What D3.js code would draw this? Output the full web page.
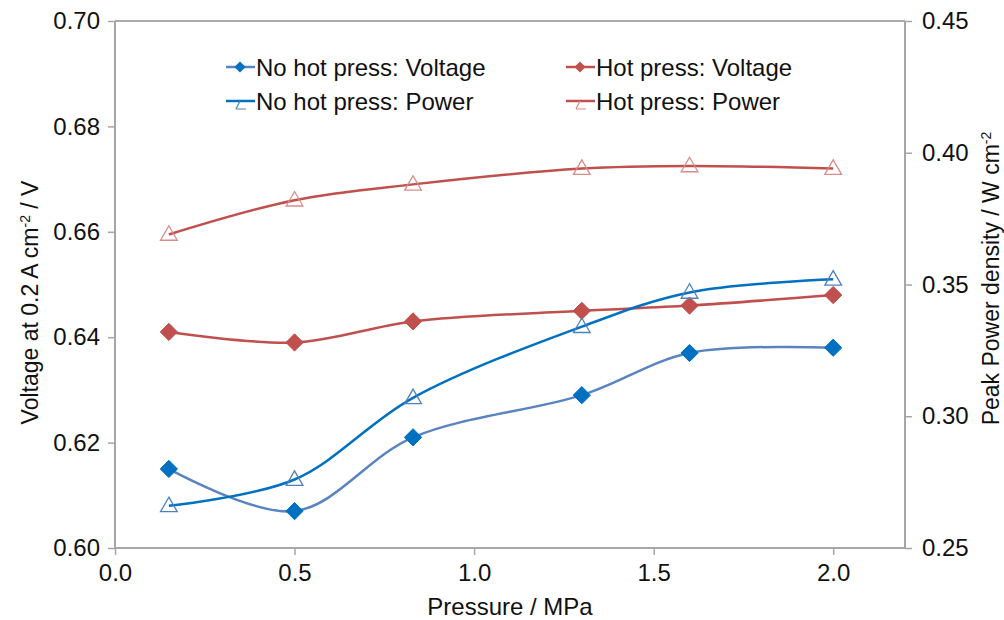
<!DOCTYPE html>
<html>
<head>
<meta charset="utf-8">
<script src="https://cdn.jsdelivr.net/npm/d3@7"></script>
<style>
  body { margin: 0; background: #fff; }
  text { font-family: "Liberation Sans", Arial, sans-serif; fill: #111; }
</style>
</head>
<body>
<div id="chart"></div>
<script>
// Pressure values (MPa)
const pressure = [0.15, 0.5, 0.83, 1.3, 1.6, 2.0];

// Voltage at 0.2 A cm-2 (left axis)
const noHotVoltage = [0.615, 0.607, 0.621, 0.629, 0.637, 0.638];
const hotVoltage = [0.641, 0.639, 0.643, 0.645, 0.646, 0.648];

// Peak power density (right axis)
const noHotPower = [0.266, 0.276, 0.307, 0.334, 0.347, 0.352];
const hotPower = [0.369, 0.382, 0.388, 0.394, 0.395, 0.394];

const xTicks = [0, 0.5, 1.0, 1.5, 2.0];
const yLeftTicks = [0.60, 0.62, 0.64, 0.66, 0.68, 0.70];
const yRightTicks = [0.25, 0.30, 0.35, 0.40, 0.45];

const width = 1004, height = 620;
const margin = { top: 21, right: 99, bottom: 72, left: 115 };
const w = width - margin.left - margin.right;
const h = height - margin.top - margin.bottom;

const svg = d3.select("#chart").append("svg")
    .attr("width", width)
    .attr("height", height);

const g = svg.append("g")
    .attr("transform", `translate(${margin.left},${margin.top})`);

const x = d3.scaleLinear().domain([0, 2.2]).range([0, w]);
const yL = d3.scaleLinear().domain([0.60, 0.70]).range([h, 0]);
const yR = d3.scaleLinear().domain([0.25, 0.45]).range([h, 0]);

const axisColor = "#a6a6a6";

// top border
g.append("line")
    .attr("x1", 0).attr("x2", w).attr("y1", 0).attr("y2", 0)
    .attr("stroke", "#555").attr("stroke-width", 1);

// x axis
const xAxis = g.append("g")
    .attr("transform", `translate(0,${h})`)
    .call(d3.axisBottom(x).tickValues(xTicks).tickFormat(d3.format(".1f")).tickSize(7).tickPadding(9));

// left axis
const yAxisL = g.append("g")
    .call(d3.axisLeft(yL).tickValues(yLeftTicks).tickFormat(d3.format(".2f")).tickSize(7).tickPadding(8));

// right axis
const yAxisR = g.append("g")
    .attr("transform", `translate(${w},0)`)
    .call(d3.axisRight(yR).tickValues(yRightTicks).tickFormat(d3.format(".2f")).tickSize(7).tickPadding(10));

[xAxis, yAxisL, yAxisR].forEach(a => {
    a.select(".domain").attr("stroke", axisColor).attr("stroke-width", 2);
    a.selectAll(".tick line").attr("stroke", axisColor).attr("stroke-width", 1.5);
    a.selectAll(".tick text").style("font-size", "24px").attr("fill", "#111");
});
yAxisL.select(".domain").attr("d", `M0,0V${h}`);
yAxisR.select(".domain").attr("d", `M0,0V${h}`);
xAxis.select(".domain").attr("d", `M0,0H${w}`);

// axis titles
svg.append("text")
    .attr("x", margin.left + x(1.1))
    .attr("y", 615)
    .attr("text-anchor", "middle")
    .style("font-size", "24px")
    .text("Pressure / MPa");

const leftTitle = svg.append("text")
    .attr("transform", `translate(38,${margin.top + h / 2 + 18}) rotate(-90)`)
    .attr("text-anchor", "middle")
    .style("font-size", "23px");
leftTitle.append("tspan").text("Voltage at 0.2  A cm");
leftTitle.append("tspan").attr("dy", -8).style("font-size", "14px").text("-2");
leftTitle.append("tspan").attr("dy", 8).text(" / V");

const rightTitle = svg.append("text")
    .attr("transform", `translate(999,${margin.top + h / 2 - 6}) rotate(-90)`)
    .attr("text-anchor", "middle")
    .style("font-size", "23px");
rightTitle.append("tspan").text("Peak Power density  / W cm");
rightTitle.append("tspan").attr("dy", -8).style("font-size", "14px").text("-2");

const blueDark = "#0070c0";
const blueLight = "#4f81bd";
const red = "#c0504d";
const redLight = "#d98c8a";

const series = [
    { name: "No hot press: Voltage", values: noHotVoltage, y: yL, line: "#5a84bf", marker: "diamond", mfill: blueDark, mstroke: blueDark },
    { name: "Hot press: Voltage", values: hotVoltage, y: yL, line: red, marker: "diamond", mfill: red, mstroke: red },
    { name: "No hot press: Power", values: noHotPower, y: yR, line: blueDark, marker: "triangle", mfill: "none", mstroke: blueLight },
    { name: "Hot press: Power", values: hotPower, y: yR, line: red, marker: "triangle", mfill: "none", mstroke: redLight }
];

const symDiamond = d3.symbol().type(d3.symbolDiamond2).size(190);
const symTriangle = d3.symbol().type(d3.symbolTriangle2).size(200);

series.forEach(s => {
    const line = d3.line()
        .x((d, i) => x(pressure[i]))
        .y(d => s.y(d))
        .curve(d3.curveCatmullRom.alpha(0.5));
    g.append("path")
        .datum(s.values)
        .attr("d", line)
        .attr("fill", "none")
        .attr("stroke", s.line)
        .attr("stroke-width", 2.5);
});

series.forEach(s => {
    g.selectAll(null)
        .data(s.values)
        .enter().append("path")
        .attr("transform", (d, i) => `translate(${x(pressure[i])},${s.y(d) + (s.marker === "triangle" ? 1 : 0)})`)
        .attr("d", s.marker === "diamond" ? symDiamond : symTriangle)
        .attr("fill", s.mfill === "none" ? "#fff" : s.mfill)
        .attr("fill-opacity", s.mfill === "none" ? 0 : 1)
        .attr("stroke", s.mstroke)
        .attr("stroke-width", s.marker === "diamond" ? 1 : 1.3);
});

// legend
const legendPos = [
    { x: 226, y: 67 }, { x: 566, y: 67 },
    { x: 226, y: 101 }, { x: 566, y: 101 }
];
series.forEach((s, i) => {
    const p = legendPos[i];
    const lg = svg.append("g").attr("transform", `translate(${p.x},${p.y})`);
    lg.append("line")
        .attr("x1", 0).attr("x2", 29).attr("y1", 0).attr("y2", 0)
        .attr("stroke", s.line).attr("stroke-width", 2.5);
    if (s.marker === "diamond") {
        lg.append("path")
            .attr("transform", "translate(14,0)")
            .attr("d", d3.symbol().type(d3.symbolDiamond2).size(80))
            .attr("fill", s.mfill);
    } else {
        lg.append("path")
            .attr("d", "M10,8 L14,0 M10,8 L20,8")
            .attr("fill", "none")
            .attr("stroke", s.mstroke)
            .attr("stroke-width", 1.2);
    }
    lg.append("text")
        .attr("x", 30)
        .attr("y", 9)
        .style("font-size", "24px")
        .text(s.name);
});
</script>
</body>
</html>
